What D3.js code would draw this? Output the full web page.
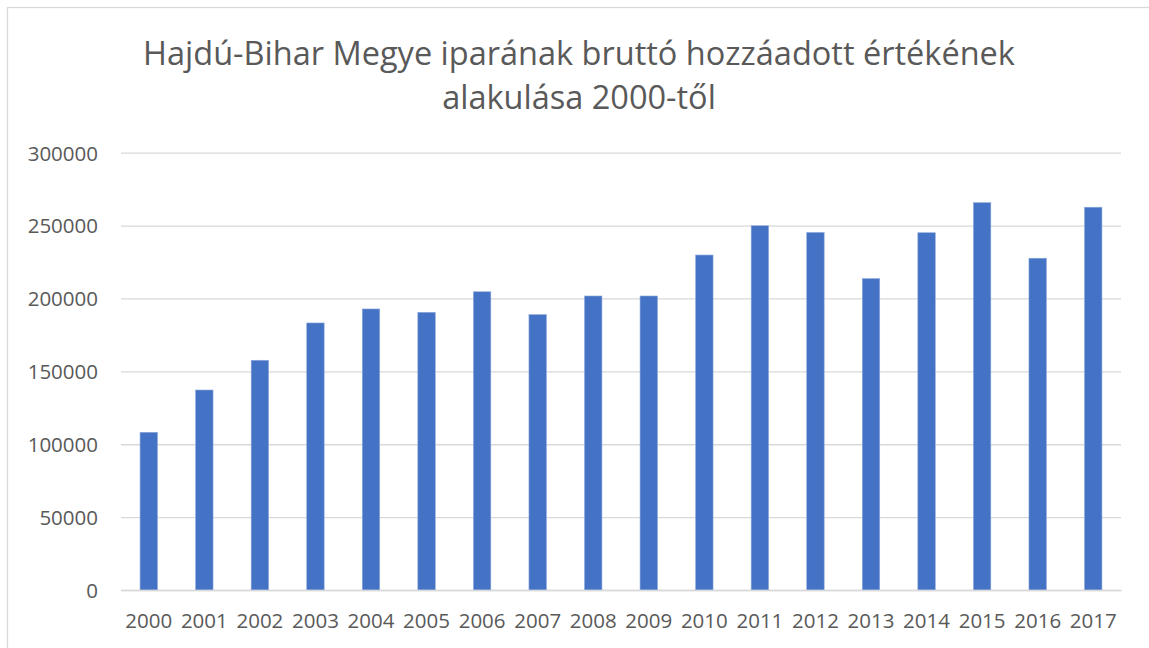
<!DOCTYPE html>
<html>
<head>
<meta charset="utf-8">
<script src="https://cdn.jsdelivr.net/npm/d3@7"></script>
<style>
  html, body { margin: 0; padding: 0; background: #fff; }
  svg { display: block; }
</style>
</head>
<body>
<svg id="chart" width="1149" height="648"></svg>
<script>
const years = ["2000","2001","2002","2003","2004","2005","2006","2007","2008","2009","2010","2011","2012","2013","2014","2015","2016","2017"];
const values = [108200, 137200, 157600, 183200, 192800, 190500, 204600, 188900, 201700, 201700, 229800, 249900, 245300, 213600, 245100, 265700, 227600, 262600];
const yTicks = [0, 50000, 100000, 150000, 200000, 250000, 300000];
const titleLines = ["Hajdú-Bihar Megye iparának bruttó hozzáadott értékének", "alakulása 2000-től"];

const svg = d3.select("#chart");
const W = 1149, H = 648;
const margin = {left: 121, right: 1121, top: 152.7, bottom: 590};
const font = "'Open Sans', sans-serif";
const textColor = "#595959";

// chart border (only top/left visible in frame)
svg.append("rect").attr("x", 7.5).attr("y", 7.5).attr("width", W).attr("height", H)
  .attr("fill", "#fff").attr("stroke", "#d9d9d9").attr("stroke-width", 1.3);

const x = d3.scaleBand().domain(years).range([margin.left, margin.right]).paddingInner(0.686).paddingOuter(0.343);
const y = d3.scaleLinear().domain([0, 300000]).range([margin.bottom, margin.top]);

// gridlines
const yAxis = d3.axisLeft(y).tickValues(yTicks).tickSize(-(margin.right - margin.left)).tickPadding(23).tickFormat(d3.format("d"));
const gy = svg.append("g").attr("transform", `translate(${margin.left},0)`).call(yAxis);
gy.select(".domain").remove();
gy.selectAll(".tick line").attr("stroke", "#d9d9d9").attr("stroke-width", 1.3);
gy.selectAll(".tick text").attr("fill", textColor).style("font-family", font).style("font-size", "20.5px").attr("dy", "0.36em");

// bars
svg.append("g").selectAll("rect").data(years).join("rect")
  .attr("x", d => x(d))
  .attr("width", x.bandwidth())
  .attr("y", (d, i) => y(values[i]))
  .attr("height", (d, i) => y(0) - y(values[i]))
  .attr("fill", "#4472C4")
  .attr("stroke", "#8faadc").attr("stroke-width", 0.6);

// x axis
const xAxis = d3.axisBottom(x).tickSize(0).tickPadding(23);
const gx = svg.append("g").attr("transform", `translate(0,${margin.bottom})`).call(xAxis);
gx.select(".domain").attr("stroke", "#d9d9d9").attr("stroke-width", 1.3);
gx.selectAll(".tick text").attr("fill", textColor).style("font-family", font).style("font-size", "20.5px");

// title
svg.append("g").selectAll("text").data(titleLines).join("text")
  .attr("x", 579)
  .attr("y", (d, i) => 65 + i * 44)
  .attr("text-anchor", "middle")
  .attr("fill", textColor)
  .style("font-family", font)
  .style("font-size", "32.5px")
  .text(d => d);
</script>
</body>
</html>
